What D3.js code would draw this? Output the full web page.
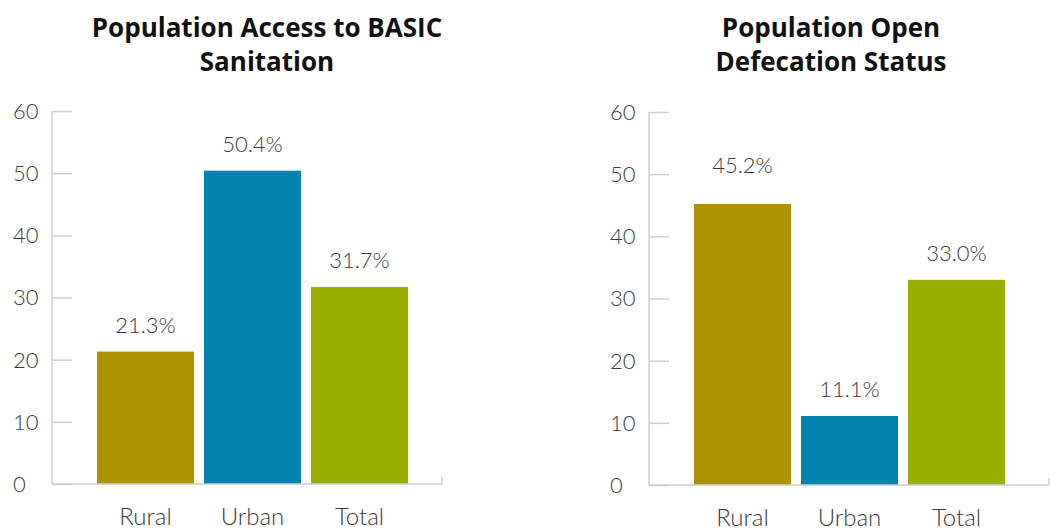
<!DOCTYPE html>
<html>
<head>
<meta charset="utf-8">
<script src="https://cdn.jsdelivr.net/npm/d3@7"></script>
<style>
  body { margin: 0; background: #fff; }
  svg { display: block; }
</style>
</head>
<body>
<div id="my_dataviz"></div>
<script>
// data
var categories = ["Rural", "Urban", "Total"];
var sanitationValues = [21.3, 50.4, 31.7];
var defecationValues = [45.2, 11.1, 33.0];
var barColors = ["#ae9200", "#0084ad", "#98ae00"];
var yTicks = [0, 10, 20, 30, 40, 50, 60];
var sanitationTitle = ["Population Access to BASIC", "Sanitation"];
var defecationTitle = ["Population Open", "Defecation Status"];

var svg = d3.select("#my_dataviz")
    .append("svg")
        .attr("width", 1050)
        .attr("height", 530);

var axisColor = "#cfcfcf";
var textColor = "#3a3a3a";
var lightFont = "Lato, 'Open Sans', sans-serif";

function barChart(values, title, opts) {
    var height = 373;
    var left = opts.left, top = opts.top;
    var g = svg.append("g")
        .attr("transform", "translate(" + left + "," + top + ")");

    var x = d3.scaleBand()
        .domain(categories)
        .range([45, 356])
        .paddingInner(10 / 107)
        .paddingOuter(0);
    var y = d3.scaleLinear()
        .domain([0, 60])
        .range([height, 0]);

    // title
    var t = g.append("text")
        .attr("text-anchor", "middle")
        .attr("x", opts.titleX)
        .attr("y", 37 - top)
        .style("font-family", "'Open Sans', Lato, sans-serif")
        .style("font-weight", 700)
        .style("font-size", "26px")
        .style("fill", "#111");
    title.forEach(function(line, i) {
        t.append("tspan")
            .attr("x", opts.titleX)
            .attr("dy", i == 0 ? 0 : 34)
            .text(line);
    });

    // y axis (ticks go inside the plot)
    var yAxis = g.append("g")
        .call(d3.axisRight(y).tickValues(yTicks).tickSize(20).tickFormat(""));
    yAxis.select(".domain").remove();
    yAxis.selectAll(".tick line")
        .attr("stroke", axisColor)
        .attr("stroke-width", 1.5);

    g.append("line")
        .attr("x1", 0).attr("x2", 0)
        .attr("y1", y(60)).attr("y2", y(0))
        .attr("stroke", axisColor)
        .attr("stroke-width", 1.5);

    g.selectAll(".ylabel")
        .data(yTicks)
        .join("text")
            .attr("class", "ylabel")
            .attr("x", -39)
            .attr("y", d => y(d))
            .attr("dy", "0.36em")
            .style("font-family", lightFont)
            .style("font-weight", 300)
            .style("font-size", "22px")
            .style("fill", textColor)
            .text(d => d);

    // bars
    g.selectAll(".bar")
        .data(values)
        .join("rect")
            .attr("class", "bar")
            .attr("x", (d, i) => x(categories[i]))
            .attr("width", x.bandwidth())
            .attr("y", d => y(d))
            .attr("height", d => y(0) - y(d))
            .attr("fill", (d, i) => barColors[i]);

    // baseline with end tick
    g.append("path")
        .attr("d", "M0," + y(0) + "H" + opts.plotWidth + "V" + (y(0) - 7))
        .attr("fill", "none")
        .attr("stroke", axisColor)
        .attr("stroke-width", 1.5);

    // value labels
    g.selectAll(".value")
        .data(values)
        .join("text")
            .attr("class", "value")
            .attr("text-anchor", "middle")
            .attr("x", (d, i) => x(categories[i]) + x.bandwidth() / 2)
            .attr("y", (d, i) => y(d) - 19 - (opts.lift[i] || 0))
            .style("font-family", lightFont)
            .style("font-weight", 300)
            .style("font-size", "22px")
            .style("fill", textColor)
            .text(d => d.toFixed(1) + "%");

    // category labels
    g.selectAll(".cat")
        .data(categories)
        .join("text")
            .attr("class", "cat")
            .attr("text-anchor", "middle")
            .attr("x", d => x(d) + x.bandwidth() / 2)
            .attr("y", height + 41)
            .style("font-family", lightFont)
            .style("font-weight", 300)
            .style("font-size", "24px")
            .style("fill", textColor)
            .text(d => d);
}

barChart(sanitationValues, sanitationTitle,
    {left: 52, top: 111, plotWidth: 390, titleX: 215, lift: []});
barChart(defecationValues, defecationTitle,
    {left: 649, top: 112, plotWidth: 400, titleX: 182, lift: [12, 0, 0]});
</script>
</body>
</html>
